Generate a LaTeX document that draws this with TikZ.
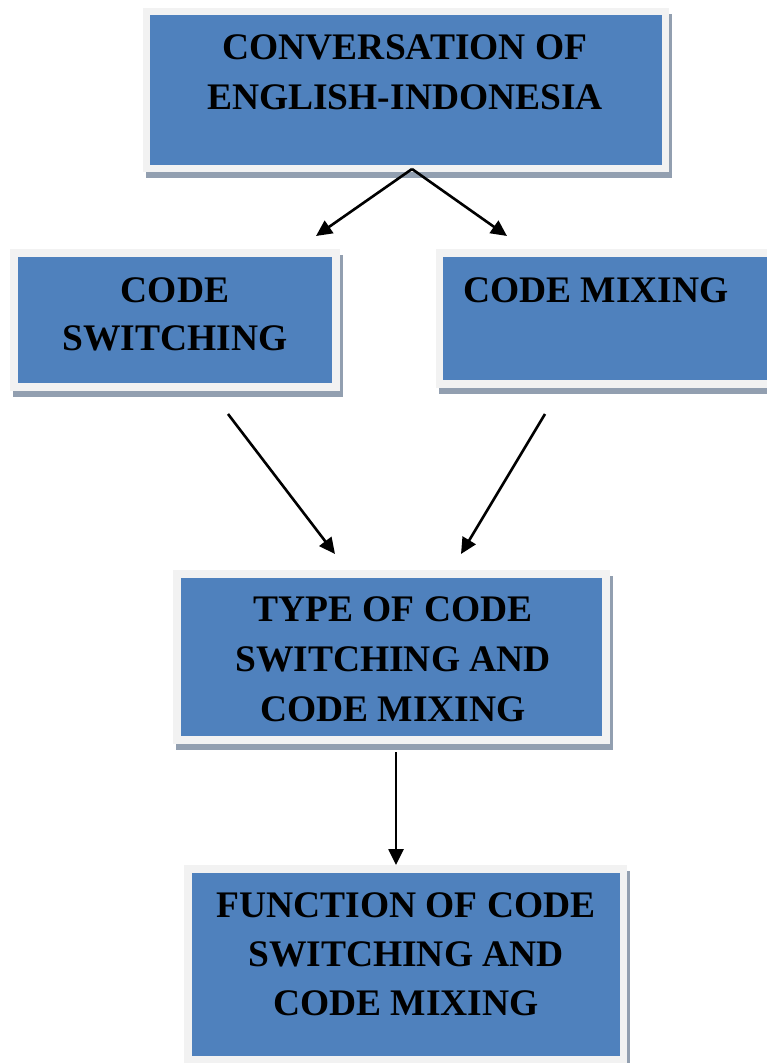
\documentclass[tikz,border=0pt]{standalone}
\usepackage{fontspec}
\setmainfont{Liberation Serif}
\usetikzlibrary{arrows.meta}
\definecolor{panelblue}{HTML}{4F81BD}
\definecolor{panelrim}{HTML}{F2F2F2}
\definecolor{panelshade}{HTML}{929FB0}
\tikzset{
  panel/.style={rectangle, inner sep=0pt, fill=panelblue, draw=panelrim, line width=7.5pt},
  panelshadow/.style={rectangle, inner sep=0pt, fill=panelshade, draw=panelshade, line width=7.5pt},
  caption/.style={font=\bfseries\fontsize{37.5}{50}\selectfont, align=center, inner sep=0pt, text=black},
  flow/.style={line width=2.6pt, -{Triangle[length=16pt,width=15pt]}}
}
% #1 name, #2 #3 centre, #4 #5 size of the rim's mid line
\newcommand\panelbox[5]{%
  \node[panelshadow, minimum width=#4pt, minimum height=#5pt] (#1-shadow) at ({#2+3},{#3+6}) {};
  \node[panel, minimum width=#4pt, minimum height=#5pt] (#1) at (#2,#3) {};}
\begin{document}
\begin{tikzpicture}[x=1pt,y=-1pt]
  \useasboundingbox (0,0) rectangle (767,1063);
  \clip (0,0) rectangle (767,1063);

  % boxes
  \panelbox{conv}{406}{90}{519}{157}
  \panelbox{switch}{175}{320}{322}{134}
  \panelbox{mix}{610}{318.5}{341}{131}
  \panelbox{type}{391.5}{657}{429}{166}
  \panelbox{func}{405.75}{964.5}{435.5}{191}

  % captions
  \node[caption] (conv-text) at (405,72.5) {CONVERSATION OF\\ENGLISH-INDONESIA};
  \node[caption, font=\bfseries\fontsize{37.5}{48}\selectfont] (switch-text) at (175,314) {CODE\\SWITCHING};
  \node[caption, anchor=west] (mix-text) at (463,290) {CODE MIXING};
  \node[caption] (type-text) at (393,659.5) {TYPE OF CODE\\SWITCHING AND\\CODE MIXING};
  \node[caption, font=\bfseries\fontsize{37.5}{49}\selectfont] (func-text) at (406,954) {FUNCTION OF CODE\\SWITCHING AND\\CODE MIXING};

  % connector ends
  \coordinate (fork) at (412,169);
  \coordinate (switch-in) at (316,236);
  \coordinate (mix-in) at (507,236);
  \coordinate (switch-out) at (228,414);
  \coordinate (mix-out) at (545,414);
  \coordinate (type-in-left) at (335,554);
  \coordinate (type-in-right) at (461,554);
  \coordinate (type-out) at (396,752);
  \coordinate (func-in) at (396,865);

  % connectors
  \draw[flow] (fork) -- (switch-in);
  \draw[flow] (fork) -- (mix-in);
  \draw[flow] (switch-out) -- (type-in-left);
  \draw[flow] (mix-out) -- (type-in-right);
  \draw[flow] (type-out) -- (func-in);
\end{tikzpicture}
\end{document}
